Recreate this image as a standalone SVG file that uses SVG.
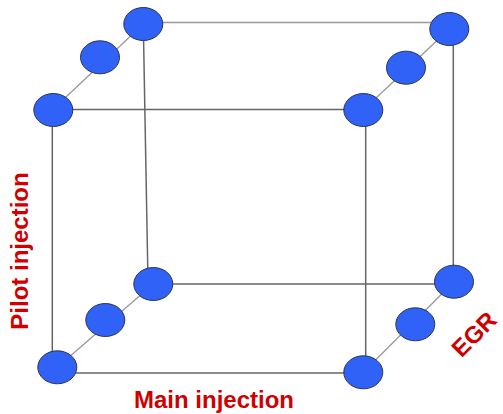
<svg xmlns="http://www.w3.org/2000/svg" width="503" height="414" viewBox="0 0 503 414">
<style>
.n{fill:#3062f8;stroke:#2a3550;stroke-width:1}
.e{stroke:#666;stroke-width:1.5;fill:none}
.b{stroke:#999;stroke-width:1.3;fill:none}
.l{fill:#d00000;font-family:"Liberation Sans",Arial,sans-serif;font-weight:bold;font-size:24px}
</style>
<rect width="503" height="414" fill="#fff"/>
<g id="connectors">
<line class="b" x1="143" y1="22.5" x2="449" y2="22.5"/>
<line class="e" x1="52" y1="109.5" x2="363" y2="109.5"/>
<line class="e" x1="153" y1="284" x2="454" y2="284"/>
<line class="e" x1="57" y1="373" x2="363" y2="373"/>
<line class="e" x1="143.3" y1="24" x2="148" y2="282"/>
<line class="e" x1="52.3" y1="110" x2="52.3" y2="367"/>
<line class="e" x1="365.7" y1="110" x2="365.7" y2="372"/>
<line class="e" x1="453.3" y1="29" x2="453.3" y2="282"/>
<line class="b" x1="52.3" y1="110" x2="143.3" y2="24"/>
<line class="b" x1="363.3" y1="110" x2="449.3" y2="29"/>
<line class="b" x1="57.3" y1="367.3" x2="153.3" y2="284"/>
<line class="b" x1="363.3" y1="372.3" x2="454" y2="281.7"/>
</g>
<g id="n1"><ellipse class="n" cx="143.3" cy="24" rx="19.5" ry="16.5"/></g>
<g id="n2"><ellipse class="n" cx="100" cy="57.3" rx="19.5" ry="16.5"/></g>
<g id="n3"><ellipse class="n" cx="53.3" cy="110" rx="19.5" ry="16.5"/></g>
<g id="n4"><ellipse class="n" cx="449.3" cy="29" rx="19.5" ry="16.5"/></g>
<g id="n5"><ellipse class="n" cx="406" cy="67.7" rx="19.5" ry="16.5"/></g>
<g id="n6"><ellipse class="n" cx="363.3" cy="110" rx="19.5" ry="16.5"/></g>
<g id="n7"><ellipse class="n" cx="153.3" cy="284" rx="19.5" ry="16.5"/></g>
<g id="n8"><ellipse class="n" cx="105.3" cy="320" rx="19.5" ry="16.5"/></g>
<g id="n9"><ellipse class="n" cx="57.3" cy="367.3" rx="19.5" ry="16.5"/></g>
<g id="n10"><ellipse class="n" cx="454" cy="281.7" rx="19.5" ry="16.5"/></g>
<g id="n11"><ellipse class="n" cx="415.3" cy="324.3" rx="19.5" ry="16.5"/></g>
<g id="n12"><ellipse class="n" cx="363.3" cy="372.3" rx="19.5" ry="16.5"/></g>
<g id="labels">
<text class="l" x="480" y="340" text-anchor="middle" font-size="22" transform="rotate(-45 480 340)">EGR</text>
<text class="l" x="28" y="251" text-anchor="middle" transform="rotate(-90 28 251)">Pilot injection</text>
<text class="l" x="214" y="408" text-anchor="middle">Main injection</text>
</g>
</svg>
